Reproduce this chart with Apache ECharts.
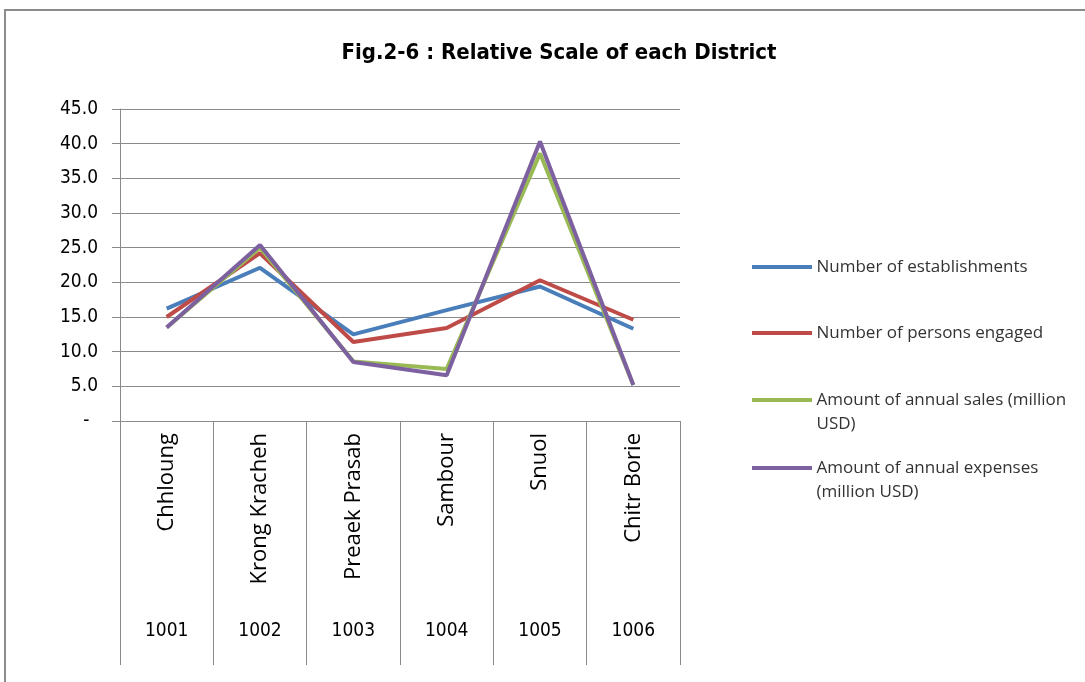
<!DOCTYPE html>
<html lang="en">
  <head>
    <meta charset="UTF-8" />
    <script src="https://cdn.jsdelivr.net/npm/echarts@6/dist/echarts.min.js"></script>
    <title>Fig.2-6</title>
    <style>
      html, body { margin: 0; padding: 0; background: #fff; }
      #app { width: 1085px; height: 682px; }
    </style>
  </head>
  <body>
    <div id="app"></div>
    <script>
      const districts = ["Chhloung", "Krong Kracheh", "Preaek Prasab", "Sambour", "Snuol", "Chitr Borie"];
      const codes = ["1001", "1002", "1003", "1004", "1005", "1006"];
      const seriesNames = [
        "Number of establishments",
        "Number of persons engaged",
        "Amount of annual sales (million USD)",
        "Amount of annual expenses (million USD)",
      ];
      const establishments = [16.2, 22.1, 12.5, 16.0, 19.4, 13.3];
      const persons = [15.0, 24.2, 11.4, 13.4, 20.3, 14.6];
      const sales = [13.5, 25.0, 8.6, 7.5, 38.6, 5.2];
      const expenses = [13.5, 25.4, 8.5, 6.6, 40.3, 5.2];

      const colors = ["#4A7EBB", "#BE4B48", "#98B954", "#7D60A0"];
      const font = '"DejaVu Sans Condensed", "Liberation Sans Narrow", sans-serif';
      const labelFont = '"Open Sans", sans-serif';
      // wrapped text for legend entries
      const legendText = {
        "Amount of annual sales (million USD)": "Amount of annual sales (million\nUSD)",
        "Amount of annual expenses (million USD)": "Amount of annual expenses\n(million USD)",
      };
      const legendTops = [255, 321, 388, 456];

      const echart = echarts.init(document.getElementById("app"));
      const values = [establishments, persons, sales, expenses];

      echart.setOption({
        animation: false,
        title: {
          text: "Fig.2-6 : Relative Scale of each District",
          left: 554,
          top: 37,
          textAlign: "center",
          textStyle: { fontFamily: font, fontSize: 22, fontWeight: "bold", color: "#000" },
        },
        graphic: [
          {
            type: "rect",
            shape: { x: 5, y: 10, width: 1100, height: 700 },
            style: { fill: "none", stroke: "#8c8c8c", lineWidth: 2 },
            silent: true,
          },
        ],
        legend: seriesNames.map((n, i) => ({
          data: [
            legendText[n]
              ? { name: n, icon: "path://M0,0L60,0L60,4L0,4ZM0,28" }
              : { name: n, icon: "path://M0,0L60,0L60,4L0,4Z" },
          ],
          left: 752,
          top: legendTops[i],
          itemWidth: 63,
          itemHeight: legendText[n] ? 28 : 4,
          itemGap: 0,
          padding: 0,
          formatter: (name) => legendText[name] || name,
          textStyle: { fontFamily: labelFont, fontSize: 17, color: "#333", lineHeight: 24, padding: [0, 0, 0, -2] },
        })),
        grid: { left: 120, right: 405, top: 109, bottom: 261 },
        xAxis: [
          {
            type: "category",
            data: districts,
            boundaryGap: true,
            axisLine: { lineStyle: { color: "#8a8a8a", width: 1 } },
            axisTick: { show: true, length: 244, lineStyle: { color: "#8a8a8a" } },
            axisLabel: { rotate: 90, fontFamily: labelFont, fontSize: 22, color: "#000", margin: 12 },
          },
          {
            type: "category",
            data: codes,
            position: "bottom",
            axisLine: { show: false },
            axisTick: { show: false },
            axisLabel: { fontFamily: font, fontSize: 19, color: "#000", margin: 201 },
          },
        ],
        yAxis: {
          type: "value",
          min: 0,
          max: 45,
          interval: 5,
          axisLine: { show: true, lineStyle: { color: "#8a8a8a" } },
          axisTick: { show: true, length: 8, lineStyle: { color: "#8a8a8a" } },
          splitLine: { lineStyle: { color: "#8a8a8a", width: 1 } },
          axisLabel: {
            fontFamily: font,
            fontSize: 19,
            color: "#000",
            margin: 22,
            formatter: (v) => (v === 0 ? "-\u2002" : v.toFixed(1)),
          },
        },
        series: seriesNames.map((n, i) => ({
          name: n,
          type: "line",
          xAxisIndex: 0,
          data: values[i],
          showSymbol: false,
          symbol: "none",
          color: colors[i],
          lineStyle: { width: 4, color: colors[i] },
        })),
      });
    </script>
  </body>
</html>
